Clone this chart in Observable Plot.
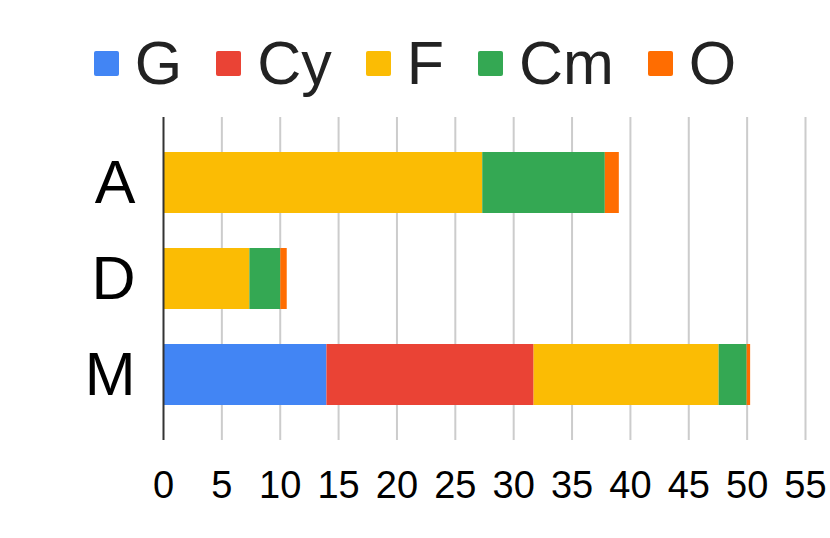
<!DOCTYPE html>
<html>
<head>
<meta charset="utf-8">
<script src="https://cdn.jsdelivr.net/npm/d3@7"></script>
<script src="https://cdn.jsdelivr.net/npm/@observablehq/plot@0.6"></script>
<style>
  html, body { margin: 0; padding: 0; background: #fff; }
  body { width: 830px; height: 538px; overflow: hidden; font-family: "Liberation Sans", Arial, sans-serif; }
  #legend { height: 110px; box-sizing: border-box; padding-top: 33px; display: flex; justify-content: center; align-items: flex-start; color: #222; }
  .item { display: flex; align-items: center; height: 61px; font-size: 61px; line-height: 61px; margin: 0 17px; }
  .sw { width: 25px; height: 25px; border-radius: 2px; margin-right: 16px; }
</style>
</head>
<body>
<div id="legend"></div>
<div id="chart"></div>
<script>
const categories = ["A", "D", "M"];
const series = ["G", "Cy", "F", "Cm", "O"];
const colors = ["#4285F4", "#EA4335", "#FBBC04", "#34A853", "#FF6D01"];
const gValues  = [0, 0, 14.0];
const cyValues = [0, 0, 17.75];
const fValues  = [27.35, 7.4, 15.85];
const cmValues = [10.5, 2.65, 2.4];
const oValues  = [1.2, 0.55, 0.3];
const xTicks = [0, 5, 10, 15, 20, 25, 30, 35, 40, 45, 50, 55];

const valuesBySeries = [gValues, cyValues, fValues, cmValues, oValues];
const data = [];
categories.forEach((c, i) => {
  series.forEach((s, j) => data.push({cat: c, series: s, value: valuesBySeries[j][i]}));
});

// legend
const legend = document.getElementById("legend");
series.forEach((s, j) => {
  const it = document.createElement("div");
  it.className = "item";
  const sw = document.createElement("div");
  sw.className = "sw";
  sw.style.background = colors[j];
  const t = document.createElement("span");
  t.textContent = s;
  it.appendChild(sw); it.appendChild(t);
  legend.appendChild(it);
});

const chart = Plot.plot({
  width: 830,
  height: 428,
  marginLeft: 163,
  marginRight: 25,
  marginTop: 7,
  marginBottom: 98,
  style: {fontFamily: '"Liberation Sans", Arial, sans-serif', color: "#000", background: "#fff", overflow: "visible"},
  x: {domain: [0, 55], label: null},
  y: {domain: categories, paddingInner: 0.36, paddingOuter: 0.354, label: null},
  color: {domain: series, range: colors},
  marks: [
    Plot.ruleX(xTicks.slice(1), {stroke: "#cccccc", strokeOpacity: 1, strokeWidth: 2}),
    Plot.barX(data, Plot.stackX({x: "value", y: "cat", fill: "series"})),
    Plot.ruleX([0], {stroke: "#333", strokeWidth: 2}),
    Plot.axisX(xTicks, {tickSize: 0, tickPadding: 31, fontSize: 38, label: null}),
    Plot.axisY({tickSize: 0, tickPadding: 28, fontSize: 61, label: null})
  ]
});
document.getElementById("chart").appendChild(chart);
</script>
</body>
</html>
